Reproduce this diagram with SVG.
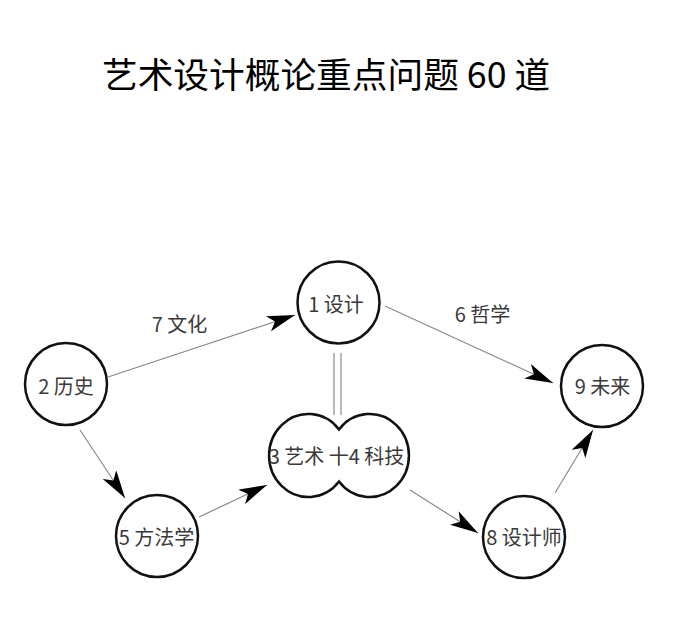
<svg xmlns="http://www.w3.org/2000/svg" width="674" height="630" viewBox="0 0 674 630">
<style>
.node{fill:#fff;stroke:#111;stroke-width:2.5}
.t{font-family:"Noto Sans CJK SC","Noto Sans",sans-serif;font-size:20px;fill:#3a3a3a;text-anchor:middle}
.edge{stroke:#8a8a8a;stroke-width:1.2;fill:none}
.title{font-family:"Noto Sans CJK SC","Noto Sans",sans-serif;font-size:35.7px;fill:#000}
</style>
<defs>
<marker id="arr" viewBox="0 0 28 16" refX="28" refY="8" markerWidth="28" markerHeight="16" markerUnits="userSpaceOnUse" orient="auto">
<path d="M0,0 L28,8 L0,16 L7,8 Z" fill="#000"/>
</marker>
</defs>
<rect width="674" height="630" fill="#fff"/>
<text class="title" x="102" y="88">艺术设计概论重点问题 60 道</text>
<g id="connectors">
<line class="edge" x1="108" y1="377" x2="295" y2="315" marker-end="url(#arr)"/>
<line class="edge" x1="385" y1="306" x2="553" y2="383" marker-end="url(#arr)"/>
<line class="edge" x1="80" y1="430" x2="125" y2="498" marker-end="url(#arr)"/>
<line class="edge" x1="199" y1="517" x2="267" y2="485" marker-end="url(#arr)"/>
<line class="edge" x1="410" y1="490" x2="478" y2="533" marker-end="url(#arr)"/>
<line class="edge" x1="555" y1="493" x2="593" y2="430" marker-end="url(#arr)"/>
<line class="edge" x1="334" y1="353" x2="334" y2="415"/>
<line class="edge" x1="341" y1="353" x2="341" y2="415"/>
<text class="t" x="179.5" y="332">7 文化</text>
<text class="t" x="482.5" y="322">6 哲学</text>
</g>
<g id="n1"><circle class="node" cx="338.5" cy="302.5" r="41"/><text class="t" x="336" y="312">1 设计</text></g>
<g id="n2"><circle class="node" cx="66" cy="384" r="41"/><text class="t" x="66" y="394">2 历史</text></g>
<g id="n9"><circle class="node" cx="602" cy="386" r="41"/><text class="t" x="602.5" y="394">9 未来</text></g>
<g id="n5"><circle class="node" cx="157" cy="536" r="41"/><text class="t" x="156.5" y="545">5 方法学</text></g>
<g id="n8"><circle class="node" cx="524" cy="537" r="41"/><text class="t" x="524" y="545">8 设计师</text></g>
<g id="n34"><path class="node" d="M339,429.5 A39.3,41.5 0 1 0 339,481.5 A39.3,41.5 0 1 0 339,429.5 Z"/><text class="t" x="336.5" y="464">3 艺术 十4 科技</text></g>
</svg>
